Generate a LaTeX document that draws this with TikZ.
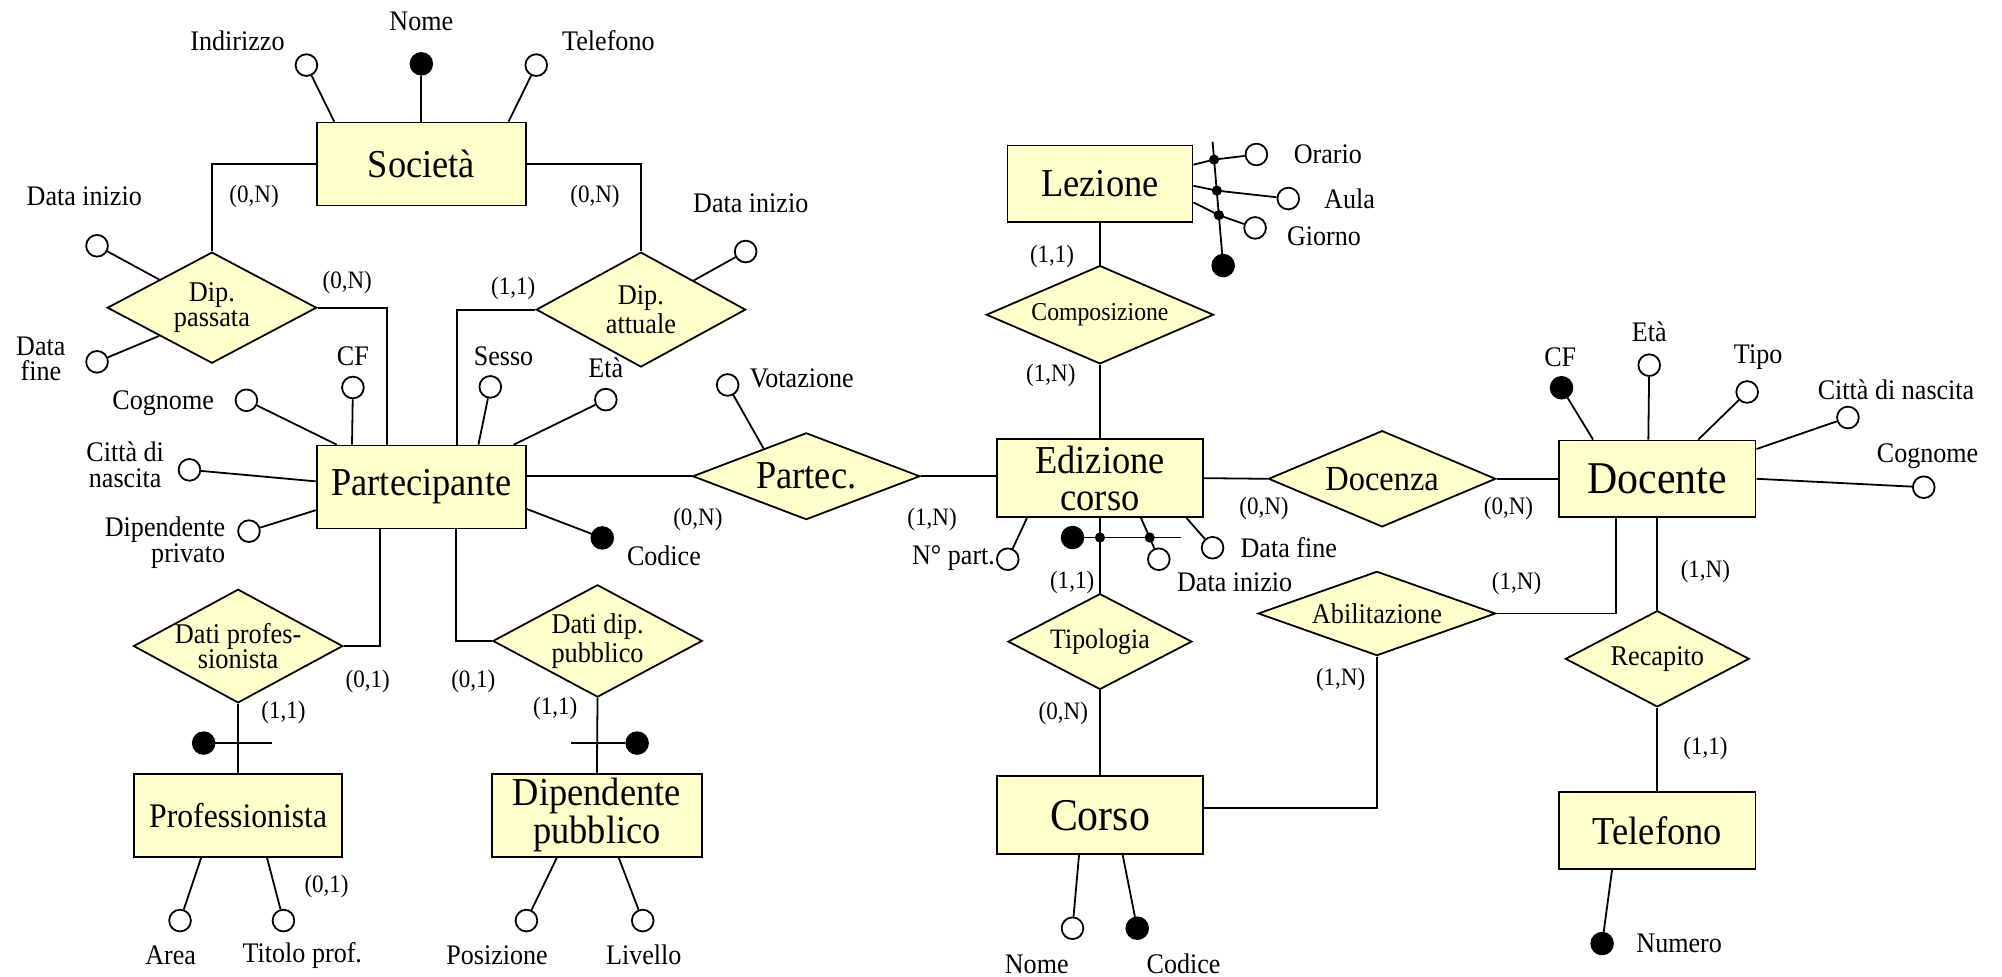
\documentclass[tikz,border=0pt]{standalone}
\usepackage{fontspec}
\setmainfont{Liberation Serif}[FakeStretch=0.92]
\usetikzlibrary{shapes.geometric}
\definecolor{erfill}{RGB}{255,255,204}

\begin{document}
\begin{tikzpicture}[x=0.5pt,y=-0.5pt, line width=0.7pt,
  ent/.style={draw, fill=erfill, rectangle, inner sep=0pt, align=center},
  rel/.style={draw, fill=erfill, diamond, inner sep=0pt},
  rtxt/.style={align=center, inner sep=0pt},
  att/.style={circle, draw, fill=white, minimum size=8.5pt, inner sep=0pt},
  key/.style={circle, draw, fill=black, minimum size=8.5pt, inner sep=0pt},
  jdot/.style={circle, fill=black, minimum size=4pt, inner sep=0pt},
  lab/.style={font=\fontsize{11.1}{10.3}\selectfont, align=center, inner sep=0pt},
  card/.style={font=\fontsize{9.8}{10}\selectfont, inner sep=0pt},
  fbig/.style={font=\fontsize{15.5}{14.5}\selectfont},
  fhuge/.style={font=\fontsize{17.8}{17}\selectfont},
  frel/.style={font=\fontsize{11.2}{10}\selectfont},
]
\useasboundingbox (0,0) rectangle (1568,765);

% ---------- entities ----------
\node[ent, minimum width=82pt, minimum height=32.5pt, fbig] (soc) at (330,128.5) {Società};
\node[ent, minimum width=82pt, minimum height=32.5pt, fbig] (par) at (330,381.5) {Partecipante};
\node[ent, minimum width=81.5pt, minimum height=32.5pt, font=\fontsize{13.5}{13}\selectfont] (pro) at (186.5,638.5) {Professionista};
\node[ent, minimum width=82.25pt, minimum height=32.5pt, font=\fontsize{15.5}{14}\selectfont] (dpu) at (467.5,638.5) {Dipendente\\pubblico};
\node[ent, minimum width=80.5pt, minimum height=30.5pt, fbig] (edi) at (861.5,374.5) {Edizione\\corso};
\node[ent, minimum width=72.5pt, minimum height=30pt, fbig] (lez) at (861.5,144) {Lezione};
\node[ent, minimum width=80.5pt, minimum height=30.5pt, fhuge] (cor) at (861.5,638.5) {Corso};
\node[ent, minimum width=77pt, minimum height=30pt, fhuge] (doc) at (1298,375) {Docente};
\node[ent, minimum width=77pt, minimum height=30pt, fbig] (tel) at (1298,650.5) {Telefono};

% ---------- relationships ----------
\node[rel, minimum width=82pt, minimum height=43.5pt] (dpa) at (166,241) {};
\node[rtxt, frel] (dpaT) at (dpa) {Dip.\\passata};
\node[rel, minimum width=82pt, minimum height=45pt] (dat) at (502,242.5) {};
\node[rtxt, frel] (datT) at (dat) {Dip.\\attuale};
\node[rel, minimum width=82pt, minimum height=44.5pt] (dpr) at (186.5,506) {};
\node[rtxt, frel] (dprT) at (dpr) {Dati profes-\\sionista};
\node[rel, minimum width=82pt, minimum height=44pt] (ddp) at (468,502) {};
\node[rtxt, frel] (ddpT) at (ddp) {Dati dip.\\pubblico};
\node[rel, minimum width=89pt, minimum height=34pt] (pat) at (631.5,373) {};
\node[rtxt, fbig] (patT) at (pat) {Partec.};
\node[rel, minimum width=89pt, minimum height=38.5pt] (com) at (861.5,246.5) {};
\node[rtxt, font=\fontsize{10.1}{10}\selectfont] (comT) at (com) {Composizione};
\node[rel, minimum width=72pt, minimum height=37.5pt] (tip) at (861.5,502.5) {};
\node[rtxt, font=\fontsize{11}{10}\selectfont] (tipT) at (tip) {Tipologia};
\node[rel, minimum width=89pt, minimum height=37.7pt] (dcz) at (1082.5,375) {};
\node[rtxt, font=\fontsize{13.8}{13}\selectfont] (dczT) at (dcz) {Docenza};
\node[rel, minimum width=93pt, minimum height=33pt] (abi) at (1078.4,480.5) {};
\node[rtxt, frel] (abiT) at (abi) {Abilitazione};
\node[rel, minimum width=72pt, minimum height=37.7pt] (rec) at (1298,516) {};
\node[rtxt, frel] (recT) at (rec) {Recapito};

% ---------- relationship links ----------
\draw (soc.west) -| (dpa.north);
\draw (soc.east) -| (dat.north);
\draw (dpa.east) -| ([xshift=28pt]par.north west);
\draw (dat.west) -| ([xshift=55.2pt]par.north west);
\draw ([yshift=4.25pt]par.east) -- (pat.west);
\draw (pat.east) -- (pat.east -| edi.west);
\draw (edi.east) -- (dcz.west);
\draw (dcz.east) -- (doc.west);
\draw (com.north) -- (lez.south);
\draw (com.south) -- (edi.north);
\draw (edi.south) -- (tip.north);
\draw (tip.south) -- (cor.north);
\draw (abi.east) -| ([xshift=22.75pt]doc.south west);
\draw (abi.south) |- ([yshift=2.75pt]cor.east);
\draw (doc.south) -- (rec.north);
\draw (rec.south) -- (tel.north);
\draw ([xshift=25.1pt]par.south west) |- (dpr.east);
\draw ([xshift=54.8pt]par.south west) |- (ddp.west);
\draw (dpr.south) -- (pro.north);
\draw (ddp.south) -- (dpu.north);

% ---------- external identifiers ----------
\node[key] (kPro) at (159.5,582) {};
\coordinate (kProEnd) at (213,582);
\draw (kPro) -- (kProEnd);
\node[key] (kDpu) at (499,582) {};
\coordinate (kDpuEnd) at (447.5,582);
\draw (kDpu) -- (kDpuEnd);

% ---------- Società attributes ----------
\node[att] (aInd) at (240,51) {};
\draw (aInd) -- ([xshift=7.25pt]soc.north west);
\node[key] (kNome) at (330,50) {};
\draw (kNome) -- (soc.north);
\node[att] (aTel) at (420,51) {};
\draw (aTel) -- ([xshift=75.5pt]soc.north west);
\node[lab] (tInd) at (186,32) {Indirizzo};
\node[lab] (tNome) at (330,17) {Nome};
\node[lab] (tTel) at (476.5,32) {Telefono};

% ---------- Dip. passata / Dip. attuale attributes ----------
\node[att] (aDpi) at (76,192.5) {};
\draw (aDpi) -- (dpa.north west);
\node[att] (aDpf) at (76,283.4) {};
\draw (aDpf) -- (dpa.south west);
\node[att] (aDai) at (584,197) {};
\draw (aDai) -- (dat.north east);
\node[lab] (tDpi) at (66,154) {Data inizio};
\node[lab, font=\fontsize{11.1}{9.6}\selectfont] (tDpf) at (32,281) {Data\\fine};
\node[lab] (tDai) at (588,159) {Data inizio};

% ---------- Partecipante attributes ----------
\node[att] (aPcf) at (276.4,303.5) {};
\draw (aPcf) -- ([xshift=14.2pt]par.north west);
\node[att] (aPco) at (193,313.5) {};
\draw (aPco) -- ([xshift=8.25pt]par.north west);
\node[att] (aPse) at (384,303) {};
\draw (aPse) -- ([xshift=63.7pt]par.north west);
\node[att] (aPet) at (474.5,313) {};
\draw (aPet) -- ([xshift=77.5pt]par.north west);
\node[att] (aPcn) at (148.4,368) {};
\draw (aPcn) -- ([yshift=2.25pt]par.west);
\node[att] (aPdp) at (195,416) {};
\draw (aPdp) -- ([yshift=-9.05pt]par.west);
\node[key] (kPcod) at (471.7,421.3) {};
\draw (kPcod) -- ([yshift=-8.6pt]par.east);
\node[lab] (tPcf) at (276.4,279) {CF};
\node[lab] (tPse) at (394.4,279) {Sesso};
\node[lab] (tPet) at (474.5,288) {Età};
\node[lab] (tPco) at (127.8,316) {Cognome};
\node[lab] (tPcn) at (98,364) {Città di\\nascita};
\node[lab, align=right, anchor=east] (tPdp) at (177,425) {Dipendente\\privato};
\node[lab] (tPcod) at (520,435.7) {Codice};

% ---------- Partec. attribute ----------
\node[att] (aVot) at (569.9,301.5) {};
\draw (aVot) -- (pat.147);
\node[lab] (tVot) at (628,296) {Votazione};

% ---------- Professionista / Dipendente pubblico attributes ----------
\node[att] (aAr) at (141,721) {};
\draw (aAr) -- ([xshift=26.65pt]pro.south west);
\node[att] (aTp) at (222,721) {};
\draw (aTp) -- ([xshift=52.4pt]pro.south west);
\node[att] (aPos) at (412.3,721) {};
\draw (aPos) -- ([xshift=25.8pt]dpu.south west);
\node[att] (aLiv) at (503.4,721) {};
\draw (aLiv) -- ([xshift=50pt]dpu.south west);
\node[lab] (tAr) at (133.7,748) {Area};
\node[lab] (tTp) at (236.8,748) {Titolo prof.};
\node[lab] (tPos) at (389.3,748) {Posizione};
\node[lab] (tLiv) at (504.2,748) {Livello};

% ---------- Lezione composite identifier ----------
\coordinate (lzTop) at (949.7,111);
\node[key] (kLez) at (958,208) {};
\draw (lzTop) -- (kLez);
\node[jdot] (jL1) at (950.9,125) {};
\node[jdot] (jL2) at (953,149.3) {};
\node[jdot] (jL3) at (954.6,168.5) {};
\node[att] (aOr) at (984,121) {};
\node[att] (aAu) at (1009,155.5) {};
\node[att] (aGi) at (983,178.5) {};
\draw ([yshift=7.5pt]lez.east) -- (jL1.center) -- (aOr);
\draw ([yshift=-0.75pt]lez.east) -- (jL2.center) -- (aAu);
\draw ([yshift=-7.25pt]lez.east) -- (jL3.center) -- (aGi);
\node[lab] (tOr) at (1040,121) {Orario};
\node[lab] (tAu) at (1057,155.5) {Aula};
\node[lab] (tGi) at (1037,185) {Giorno};

% ---------- Edizione corso attributes and identifier ----------
\node[key] (kEdi) at (840,421) {};
\node[jdot] (jE1) at (861.5,421) {};
\node[jdot] (jE2) at (900.5,421) {};
\coordinate (kEdiEnd) at (925,421);
\draw (kEdi) -- (kEdiEnd);
\node[att] (aNp) at (789.3,438) {};
\draw (aNp) -- ([xshift=12pt]edi.south west);
\node[att] (aDi) at (907.6,438) {};
\draw ([xshift=56.65pt]edi.south west) -- (jE2.center) -- (aDi);
\node[att] (aDf) at (949.7,429) {};
\draw (aDf) -- ([xshift=74.5pt]edi.south west);
\node[lab, anchor=east] (tNp) at (780,437) {N° part.};
\node[lab] (tDi) at (967,456) {Data inizio};
\node[lab, anchor=west] (tDf) at (971,429) {Data fine};

% ---------- Corso attributes ----------
\node[att] (aCn) at (840,727) {};
\draw (aCn) -- ([xshift=32.4pt]cor.south west);
\node[key] (kCc) at (890.7,727) {};
\draw (kCc) -- ([xshift=49.5pt]cor.south west);
\node[lab] (tCn) at (812,755) {Nome};
\node[lab] (tCc) at (927,755) {Codice};

% ---------- Docente / Telefono attributes ----------
\node[key] (kDcf) at (1223,303.7) {};
\draw (kDcf) -- ([xshift=13.7pt]doc.north west);
\node[att] (aDet) at (1291.7,286) {};
\draw (aDet) -- ([xshift=35.35pt]doc.north west);
\node[att] (aDti) at (1368.4,307) {};
\draw (aDti) -- ([xshift=54.9pt]doc.north west);
\node[att] (aDcn) at (1447.3,327) {};
\draw (aDcn) -- ([yshift=-3.7pt]doc.north east);
\node[att] (aDco) at (1506.7,381.6) {};
\draw (aDco) -- (doc.east);
\node[key] (kNum) at (1254.8,739) {};
\draw (kNum) -- ([xshift=21.15pt]tel.south west);
\node[lab] (tDcf) at (1222,280) {CF};
\node[lab] (tDet) at (1291.7,260) {Età};
\node[lab] (tDti) at (1377,280) {Tipo};
\node[lab] (tDcn) at (1485,305.5) {Città di nascita};
\node[lab] (tDco) at (1509.7,357) {Cognome};
\node[lab, anchor=west] (tNum) at (1281,739) {Numero};

% ---------- cardinalities ----------
\node[card] (c1) at (199,154) {(0,N)};
\node[card] (c2) at (466,154) {(0,N)};
\node[card] (c3) at (272,221) {(0,N)};
\node[card] (c4) at (402,226) {(1,1)};
\node[card] (c5) at (546.6,407) {(0,N)};
\node[card] (c6) at (730,407) {(1,N)};
\node[card] (c7) at (288,534) {(0,1)};
\node[card] (c8) at (370.7,534) {(0,1)};
\node[card] (c9) at (222,558) {(1,1)};
\node[card] (c10) at (434.9,555) {(1,1)};
\node[card] (c11) at (255.8,694) {(0,1)};
\node[card] (c12) at (824,201) {(1,1)};
\node[card] (c13) at (823,294) {(1,N)};
\node[card] (c14) at (839.7,456) {(1,1)};
\node[card] (c15) at (832.8,559) {(0,N)};
\node[card] (c16) at (990,398) {(0,N)};
\node[card] (c17) at (1181.5,398.4) {(0,N)};
\node[card] (c18) at (1187.8,457) {(1,N)};
\node[card] (c19) at (1050,532) {(1,N)};
\node[card] (c20) at (1335.7,447.4) {(1,N)};
\node[card] (c21) at (1335.7,586.3) {(1,1)};
\end{tikzpicture}
\end{document}
